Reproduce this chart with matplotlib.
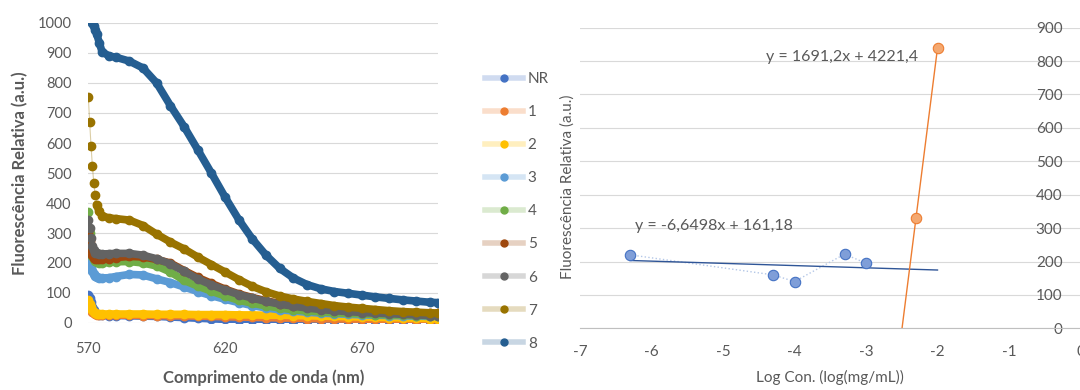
import matplotlib
matplotlib.use("Agg")
import matplotlib.pyplot as plt
from matplotlib.lines import Line2D
from matplotlib.legend_handler import HandlerTuple

plt.rcParams["font.family"] = ["Lato", "DejaVu Sans"]
plt.rcParams["font.size"] = 10.5
plt.rcParams["axes.unicode_minus"] = False

txt = "#595959"
grid = "#D9D9D9"

# ---- left chart: emission spectra ----
wl = [570, 570.5, 571, 571.5, 572, 572.5, 573, 574, 575, 577.5,
      580, 585, 590, 595, 600, 605, 610, 615, 620, 625, 630, 635, 640, 645,
      650, 655, 660, 665, 670, 675, 680, 685, 690, 695, 698]

nr = [95, 85, 70, 55, 42, 35, 30, 27, 26, 25,
      25, 24, 23, 22, 20, 18, 16, 14, 12, 11, 10, 9, 9, 8,
      8, 8, 7, 7, 7, 6, 6, 6, 6, 6, 6]
s1 = [70, 58, 46, 38, 33, 30, 28, 27, 27, 26,
      26, 26, 25, 25, 24, 24, 23, 22, 21, 20, 19, 18, 17, 16,
      15, 14, 14, 13, 13, 12, 12, 12, 11, 11, 11]
s2 = [78, 65, 52, 42, 36, 33, 31, 30, 30, 30,
      30, 30, 30, 29, 29, 29, 28, 28, 28, 27, 27, 26, 26, 25,
      24, 23, 22, 21, 20, 19, 18, 17, 16, 15, 15]
s3 = [210, 200, 186, 172, 162, 156, 152, 150, 150, 151,
      155, 162, 160, 147, 135, 120, 105, 91, 79, 68, 58, 50, 44, 40,
      36, 33, 31, 29, 27, 26, 25, 24, 23, 22, 22]
s4 = [370, 300, 245, 222, 212, 206, 203, 200, 200, 202,
      204, 205, 200, 190, 170, 142, 123, 106, 90, 76, 66, 57, 50, 44,
      40, 37, 34, 32, 30, 28, 27, 26, 25, 24, 24]
s5 = [300, 275, 248, 228, 218, 214, 212, 212, 212, 215,
      218, 222, 220, 212, 200, 175, 152, 132, 113, 97, 85, 74, 65, 58,
      52, 48, 45, 42, 40, 38, 36, 34, 33, 32, 32]
s6 = [345, 318, 285, 258, 242, 235, 232, 230, 230, 231,
      232, 232, 226, 214, 197, 172, 147, 127, 110, 95, 83, 72, 63, 56,
      50, 45, 41, 38, 35, 33, 31, 29, 27, 25, 25]
s7 = [754, 670, 590, 523, 467, 427, 395, 372, 358, 350,
      348, 343, 325, 296, 270, 247, 220, 195, 170, 145, 122, 104, 90, 80,
      72, 65, 58, 53, 49, 45, 41, 38, 36, 34, 33]
s8 = [1060, 1030, 1010, 1000, 990, 977, 965, 935, 905, 890,
      886, 873, 850, 800, 725, 655, 578, 500, 420, 345, 280, 226, 182, 150,
      128, 114, 105, 99, 93, 87, 82, 77, 73, 69, 68]

labels = ["NR", "1", "2", "3", "4", "5", "6", "7", "8"]
series = [nr, s1, s2, s3, s4, s5, s6, s7, s8]
colors = ["#4472C4", "#ED7D31", "#FFC000", "#5B9BD5", "#70AD47",
          "#9E480E", "#636363", "#997300", "#255E91"]

# ---- right chart: calibration ----
logc_lo = [-6.3, -4.3, -4.0, -3.3, -3.0]
fluo_lo = [220, 160, 140, 222, 195]
logc_hi = [-2.3, -2.0]
fluo_hi = [331, 838]
fit_lo = (-6.6498, 161.18)
fit_hi = (1691.2, 4221.4)

fig = plt.figure(figsize=(10.8, 3.9), dpi=100)

ax = fig.add_axes([88.3 / 1080, 1 - 323 / 390, 350 / 1080, 300 / 390])
band_start = 6
for vals, c in zip(series, colors):
    ax.plot(wl, vals, color=c, lw=0.8, alpha=0.35, zorder=2)
    ax.plot(wl[band_start:], vals[band_start:], color=c, lw=5.5,
            solid_capstyle="round", solid_joinstyle="round", zorder=3)
    ax.plot(wl, vals, ls="none", marker="o", ms=6, color=c,
            mec=c, zorder=3)

ax.set_xlim(570, 698)
ax.set_ylim(0, 1000)
ax.set_xticks([570, 620, 670])
ax.set_yticks(range(0, 1001, 100))
ax.yaxis.grid(True, color=grid, lw=0.8)
ax.set_axisbelow(True)
for s in ax.spines.values():
    s.set_visible(False)
ax.tick_params(length=0, colors=txt, labelsize=10.5)
ax.tick_params(axis="y", pad=12)
ax.tick_params(axis="x", pad=14)
ax.set_xlabel("Comprimento de onda (nm)", color=txt, fontweight="bold",
              fontsize=12, labelpad=9)
ax.set_ylabel("Fluorescência Relativa (a.u.)", color=txt,
              fontweight="bold", fontsize=12, labelpad=7)

# legend: faint wide line with a solid marker on top
handles = [(Line2D([], [], color=c, lw=4, alpha=0.25),
            Line2D([], [], ls="none", marker="o", ms=5, color=c))
           for c in colors]
leg = fig.legend(handles, labels, loc="upper left",
                 bbox_to_anchor=(485 / 1080, 1 - 72 / 390),
                 handler_map={tuple: HandlerTuple(ndivide=1, pad=0)},
                 frameon=False, borderaxespad=0, borderpad=0,
                 handlelength=2.5, handletextpad=0.3, labelspacing=1.25,
                 fontsize=11)
for t in leg.get_texts():
    t.set_color(txt)

# ---- right axes ----
ax2 = fig.add_axes([580 / 1080, 1 - 328.3 / 390, 500.5 / 1080, 300.6 / 390])
ax2.plot(logc_lo, fluo_lo, ls=":", color="#B4C7E7", lw=1, zorder=2)
xs = [logc_lo[0], -2.0]
ax2.plot(xs, [fit_lo[0] * x + fit_lo[1] for x in xs], color="#2F5597",
         lw=1, zorder=3)
ax2.plot(logc_lo, fluo_lo, ls="none", marker="o", ms=7.5, mfc="#7F9ED8",
         mec="#4472C4", mew=0.8, zorder=4)

xh = [-2.6, logc_hi[-1]]
ax2.plot(xh, [fit_hi[0] * x + fit_hi[1] for x in xh], color="#ED7D31",
         lw=1, zorder=3)
ax2.plot(logc_hi, fluo_hi, ls="none", marker="o", ms=7.5, mfc="#F4A870",
         mec="#ED7D31", mew=0.8, zorder=4)

ax2.text(-2.27, 812, "y = 1691,2x + 4221,4", color=txt, fontsize=11.5,
         ha="right", va="center")
ax2.text(-6.23, 306, "y = -6,6498x + 161,18", color=txt, fontsize=11.5,
         ha="left", va="center")

ax2.set_xlim(-7, 0)
ax2.set_ylim(0, 900)
ax2.set_xticks(range(-7, 1))
ax2.set_yticks(range(0, 901, 100))
ax2.yaxis.grid(True, color=grid, lw=0.8)
ax2.set_axisbelow(True)
for k, s in ax2.spines.items():
    s.set_visible(k == "bottom")
ax2.spines["bottom"].set_color("#BFBFBF")
ax2.yaxis.tick_right()
ax2.tick_params(length=0, colors=txt, labelsize=11)
ax2.tick_params(axis="y", pad=-13)
for lab in ax2.get_yticklabels():
    lab.set_horizontalalignment("right")
ax2.tick_params(axis="x", pad=12)
ax2.set_xlabel("Log Con. (log(mg/mL))", color=txt, fontsize=11, labelpad=8)
ax2.yaxis.set_label_position("left")
ax2.set_ylabel("Fluorescência Relativa (a.u.)", color=txt, fontsize=11)
ax2.yaxis.set_label_coords(-0.011, 0.47)

fig.savefig("out.png", dpi=100)
